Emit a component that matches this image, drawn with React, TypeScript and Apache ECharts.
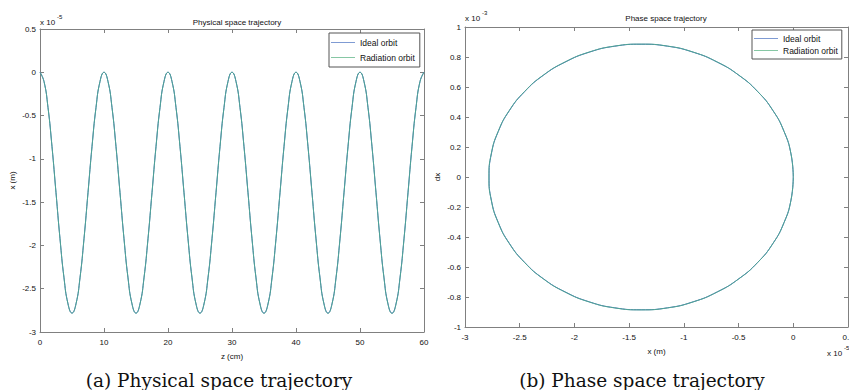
import React, { useEffect, useRef } from "react";
import * as echarts from "echarts";

// Physical space trajectory (x in units of 1e-5 m, z in cm), read every 1/16 period
const zValues = [
  0, 0.625, 1.25, 1.875, 2.5, 3.125, 3.75, 4.375, 5, 5.625, 6.25, 6.875, 7.5, 8.125, 8.75, 9.375,
  10, 10.625, 11.25, 11.875, 12.5, 13.125, 13.75, 14.375, 15, 15.625, 16.25, 16.875, 17.5, 18.125, 18.75, 19.375,
  20, 20.625, 21.25, 21.875, 22.5, 23.125, 23.75, 24.375, 25, 25.625, 26.25, 26.875, 27.5, 28.125, 28.75, 29.375,
  30, 30.625, 31.25, 31.875, 32.5, 33.125, 33.75, 34.375, 35, 35.625, 36.25, 36.875, 37.5, 38.125, 38.75, 39.375,
  40, 40.625, 41.25, 41.875, 42.5, 43.125, 43.75, 44.375, 45, 45.625, 46.25, 46.875, 47.5, 48.125, 48.75, 49.375,
  50, 50.625, 51.25, 51.875, 52.5, 53.125, 53.75, 54.375, 55, 55.625, 56.25, 56.875, 57.5, 58.125, 58.75, 59.375,
  60,
];
const xIdeal = [
  0, -0.106, -0.407, -0.858, -1.39, -1.922, -2.373, -2.674, -2.78, -2.674, -2.373, -1.922, -1.39, -0.858, -0.407, -0.106,
  0, -0.106, -0.407, -0.858, -1.39, -1.922, -2.373, -2.674, -2.78, -2.674, -2.373, -1.922, -1.39, -0.858, -0.407, -0.106,
  0, -0.106, -0.407, -0.858, -1.39, -1.922, -2.373, -2.674, -2.78, -2.674, -2.373, -1.922, -1.39, -0.858, -0.407, -0.106,
  0, -0.106, -0.407, -0.858, -1.39, -1.922, -2.373, -2.674, -2.78, -2.674, -2.373, -1.922, -1.39, -0.858, -0.407, -0.106,
  0, -0.106, -0.407, -0.858, -1.39, -1.922, -2.373, -2.674, -2.78, -2.674, -2.373, -1.922, -1.39, -0.858, -0.407, -0.106,
  0, -0.106, -0.407, -0.858, -1.39, -1.922, -2.373, -2.674, -2.78, -2.674, -2.373, -1.922, -1.39, -0.858, -0.407, -0.106,
  0,
];
const xRadiation = [
  0, -0.107, -0.408, -0.86, -1.392, -1.924, -2.375, -2.676, -2.782, -2.676, -2.375, -1.924, -1.392, -0.86, -0.408, -0.107,
  0, -0.107, -0.408, -0.86, -1.392, -1.924, -2.376, -2.677, -2.783, -2.677, -2.376, -1.924, -1.392, -0.86, -0.408, -0.107,
  0, -0.107, -0.408, -0.861, -1.393, -1.925, -2.376, -2.677, -2.783, -2.677, -2.376, -1.925, -1.393, -0.861, -0.408, -0.107,
  0, -0.107, -0.409, -0.861, -1.393, -1.925, -2.377, -2.678, -2.784, -2.678, -2.377, -1.925, -1.393, -0.861, -0.409, -0.107,
  0, -0.108, -0.409, -0.862, -1.394, -1.926, -2.377, -2.678, -2.784, -2.678, -2.377, -1.926, -1.394, -0.862, -0.409, -0.108,
  0, -0.108, -0.41, -0.862, -1.394, -1.926, -2.378, -2.679, -2.785, -2.679, -2.378, -1.926, -1.394, -0.862, -0.41, -0.108,
  0,
];

// Phase space trajectory (x in 1e-5 m, dx in 1e-3)
const phaseX = [
  0, -0.021, -0.084, -0.186, -0.325, -0.497, -0.695, -0.915, -1.149,
  -1.39, -1.631, -1.865, -2.085, -2.284, -2.455, -2.594, -2.696, -2.759,
  -2.78, -2.759, -2.696, -2.594, -2.455, -2.284, -2.085, -1.865, -1.631,
  -1.39, -1.149, -0.915, -0.695, -0.497, -0.325, -0.186, -0.084, -0.021, 0,
];
const phaseDx = [
  0, 0.154, 0.303, 0.443, 0.569, 0.678, 0.766, 0.832, 0.872,
  0.885, 0.872, 0.832, 0.766, 0.678, 0.569, 0.443, 0.303, 0.154,
  0, -0.154, -0.303, -0.443, -0.569, -0.678, -0.766, -0.832, -0.872,
  -0.885, -0.872, -0.832, -0.766, -0.678, -0.569, -0.443, -0.303, -0.154, 0,
];

const legendNames = ["Ideal orbit", "Radiation orbit"];
const titles = ["Physical space trajectory", "Phase space trajectory"];
const captions = ["(a) Physical space trajectory", "(b) Phase space trajectory"];

const IDEAL = "#4c70bd";
const RAD = "#4fa592";
const IDEAL_LEG = "#7f9bd3";
const RAD_LEG = "#86c7a4";
const AXIS = "#808080";
const FONT = "Liberation Sans, Arial, sans-serif";
const SERIF = "DejaVu Serif, Liberation Serif, serif";

export default function App() {
  const ref = useRef<HTMLDivElement>(null);
  useEffect(() => {
    if (!ref.current) return;
    const chart = echarts.init(ref.current, null, { renderer: "svg" });
    const tickLabel = { fontSize: 8, color: "#111", fontFamily: FONT };
    const mainAxis = (extra: any) => ({
      type: "value",
      axisLine: { show: true, onZero: false, lineStyle: { color: AXIS, width: 1 } },
      axisTick: { show: true, inside: true, length: 4, lineStyle: { color: AXIS } },
      splitLine: { show: false },
      nameTextStyle: { fontSize: 8, color: "#111", fontFamily: FONT },
      ...extra,
    });
    const mirrorAxis = (extra: any) => ({
      type: "value",
      axisLine: { show: true, onZero: false, lineStyle: { color: AXIS, width: 1 } },
      axisTick: { show: true, inside: true, length: 4, lineStyle: { color: AXIS } },
      axisLabel: { show: false },
      splitLine: { show: false },
      ...extra,
    });
    const zData = zValues.map((z, i) => [z, xIdeal[i]]);
    const zDataR = zValues.map((z, i) => [z, xRadiation[i]]);
    const pData = phaseX.map((x, i) => [x, phaseDx[i]]);
    const pDataR = phaseX.map((x, i) => [x * 1.0005, phaseDx[i] * 1.001]);
    const legendBase = {
      orient: "vertical",
      backgroundColor: "#fff",
      borderColor: "#555",
      borderWidth: 1,
      borderRadius: 0,
      icon: "rect",
      itemWidth: 24,
      itemHeight: 1,
      textStyle: { fontSize: 8.5, color: "#111", fontFamily: FONT },
      data: [
        { name: legendNames[0], itemStyle: { color: IDEAL_LEG } },
        { name: legendNames[1], itemStyle: { color: RAD_LEG } },
      ],
    };
    chart.setOption({
      animation: false,
      backgroundColor: "#fff",
      grid: [
        { left: 40, top: 29, width: 384, height: 303, containLabel: false, outerBoundsMode: "none" },
        { left: 465, top: 27, width: 383, height: 300, containLabel: false, outerBoundsMode: "none" },
      ],
      title: [
        { text: titles[0], left: 232, top: 13, textAlign: "center", textStyle: { fontSize: 8, fontWeight: "normal", color: "#111", fontFamily: FONT } },
        { text: titles[1], left: 661, top: 9, textAlign: "center", textStyle: { fontSize: 8, fontWeight: "normal", color: "#111", fontFamily: FONT } },
      ],
      legend: [
        { ...legendBase, left: 329, top: 33, padding: [5, 5, 5, 2], itemGap: 6 },
        { ...legendBase, left: 752, top: 30, padding: [4, 4, 4, 2], itemGap: 3 },
      ],
      xAxis: [
        mainAxis({ gridIndex: 0, min: 0, max: 60, interval: 10, name: "z (cm)", nameLocation: "middle", nameGap: 20, axisLabel: { ...tickLabel, margin: 6 } }),
        mainAxis({ gridIndex: 1, min: -3, max: 0.5, interval: 0.5, name: "x (m)", nameLocation: "middle", nameGap: 20, axisLabel: { ...tickLabel, margin: 6 } }),
        mirrorAxis({ gridIndex: 0, position: "top", min: 0, max: 60, interval: 10 }),
        mirrorAxis({ gridIndex: 1, position: "top", min: -3, max: 0.5, interval: 0.5 }),
      ],
      yAxis: [
        mainAxis({ gridIndex: 0, position: "left", min: -3, max: 0.5, interval: 0.5, name: "x (m)", nameLocation: "middle", nameGap: 24, axisLabel: { ...tickLabel, margin: 4 } }),
        mainAxis({ gridIndex: 1, position: "left", min: -1, max: 1, interval: 0.2, name: "dx", nameLocation: "middle", nameGap: 24, axisLabel: { ...tickLabel, margin: 4 } }),
        mirrorAxis({ gridIndex: 0, position: "right", min: -3, max: 0.5, interval: 0.5 }),
        mirrorAxis({ gridIndex: 1, position: "right", min: -1, max: 1, interval: 0.2 }),
      ],
      series: [
        { name: legendNames[0], type: "line", xAxisIndex: 0, yAxisIndex: 0, data: zData, smooth: true, symbol: "none", lineStyle: { color: IDEAL, width: 1 }, itemStyle: { color: IDEAL } },
        { name: legendNames[1], type: "line", xAxisIndex: 0, yAxisIndex: 0, data: zDataR, smooth: true, symbol: "none", lineStyle: { color: RAD, width: 1 }, itemStyle: { color: RAD } },
        { name: legendNames[0], type: "line", xAxisIndex: 1, yAxisIndex: 1, data: pData, smooth: true, symbol: "none", lineStyle: { color: IDEAL, width: 1 }, itemStyle: { color: IDEAL } },
        { name: legendNames[1], type: "line", xAxisIndex: 1, yAxisIndex: 1, data: pDataR, smooth: true, symbol: "none", lineStyle: { color: RAD, width: 1 }, itemStyle: { color: RAD } },
      ],
      graphic: [
        { type: "text", left: 40, top: 18, style: { text: "x 10", fontSize: 8, fill: "#111", fontFamily: FONT } },
        { type: "text", left: 57, top: 14, style: { text: "-5", fontSize: 6, fill: "#111", fontFamily: FONT } },
        { type: "text", left: 465, top: 14, style: { text: "x 10", fontSize: 8, fill: "#111", fontFamily: FONT } },
        { type: "text", left: 482, top: 10, style: { text: "-3", fontSize: 6, fill: "#111", fontFamily: FONT } },
        { type: "text", left: 827, top: 349, style: { text: "x 10", fontSize: 8, fill: "#111", fontFamily: FONT } },
        { type: "text", left: 844, top: 345, style: { text: "-5", fontSize: 6, fill: "#111", fontFamily: FONT } },
        { type: "text", x: 219, y: 380, style: { text: captions[0], fontSize: 18.5, fill: "#111", fontFamily: SERIF, align: "center", verticalAlign: "middle" } },
        { type: "text", x: 642, y: 380, style: { text: captions[1], fontSize: 18.5, fill: "#111", fontFamily: SERIF, align: "center", verticalAlign: "middle" } },
      ],
    });
    return () => chart.dispose();
  }, []);
  return (
    <div
      ref={ref}
      style={{ position: "fixed", left: 0, top: 0, width: 849, height: 390 }}
    />
  );
}
